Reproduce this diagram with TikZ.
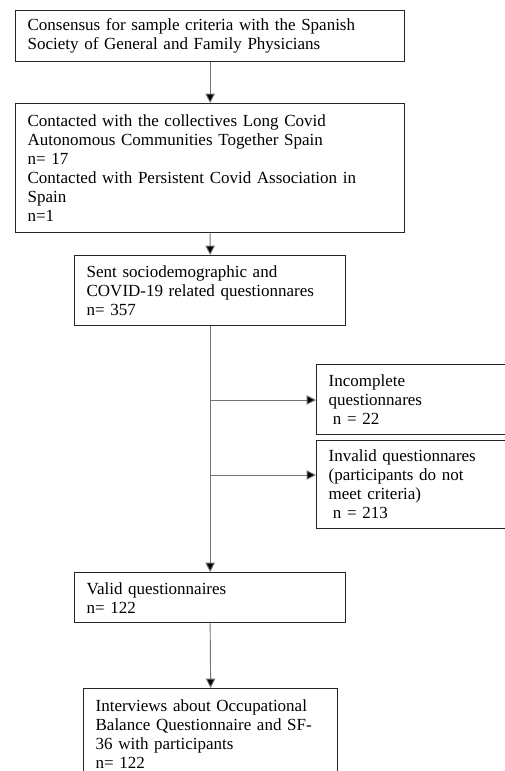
\documentclass[tikz,border=0pt]{standalone}
\usepackage{fontspec}
\setmainfont{Liberation Serif}
\usepackage{tikz}
\usetikzlibrary{arrows.meta}
\tikzset{box/.style={draw=black!85, line width=1.1pt, anchor=north west, inner xsep=0.36cm, inner ysep=0pt, align=left, text width=#1, font=\fontsize{14.5}{16.2}\selectfont}}
\tikzset{link/.style={draw=black!55, line width=0.8pt, -{Triangle[width=8pt,length=8pt,fill=black]}}}

\begin{document}
\begin{tikzpicture}[x=0.03cm, y=-0.03cm]
\useasboundingbox (0,0) rectangle (505,771);
\clip (0,0) rectangle (505,771);
 % main column
 \node[box=10.95cm, minimum height=1.53cm] (cons) at (15,10) {Consensus for sample criteria with the Spanish\\Society of General and Family Physicians};
 \node[box=10.95cm, minimum height=3.87cm] (contact) at (15,103) {Contacted with the collectives Long Covid\\Autonomous Communities Together Spain\\n= 17\\Contacted with Persistent Covid Association in\\Spain\\n=1};
 \node[box=7.41cm, minimum height=2.1cm] (sent) at (74,255) {Sent sociodemographic  and\\COVID-19 related questionnares\\n= 357};
 \node[box=7.41cm, minimum height=1.5cm] (valid) at (74,572) {Valid questionnaires\\n= 122};
 \node[box=6.9cm, minimum height=2.7cm] (interv) at (83,688) {Interviews about Occupational\\Balance Questionnaire and SF-\\36 with participants\\n= 122};
 % excluded
 \node[box=5.28cm, minimum height=2.1cm] (incompl) at (316,364) {Incomplete\\questionnares\\\hspace{0.25em}n = 22};
 \node[box=5.28cm, minimum height=2.64cm] (invalid) at (316,440) {Invalid questionnares\\(participants do not\\meet criteria)\\\hspace{0.25em}n = 213};
 \coordinate (b1) at (209.5,400);
 \coordinate (b2) at (209.5,475);
 \draw[link] (cons.south) -- (contact.north);
 \draw[link] (contact.south) -- (sent.north);
 \draw[link] (sent.south) -- (valid.north);
 \draw[link] (valid.south) -- (interv.north);
 \draw[link] (b1) -- (b1 -| incompl.west);
 \draw[link] (b2) -- (b2 -| invalid.west);
\end{tikzpicture}
\end{document}
